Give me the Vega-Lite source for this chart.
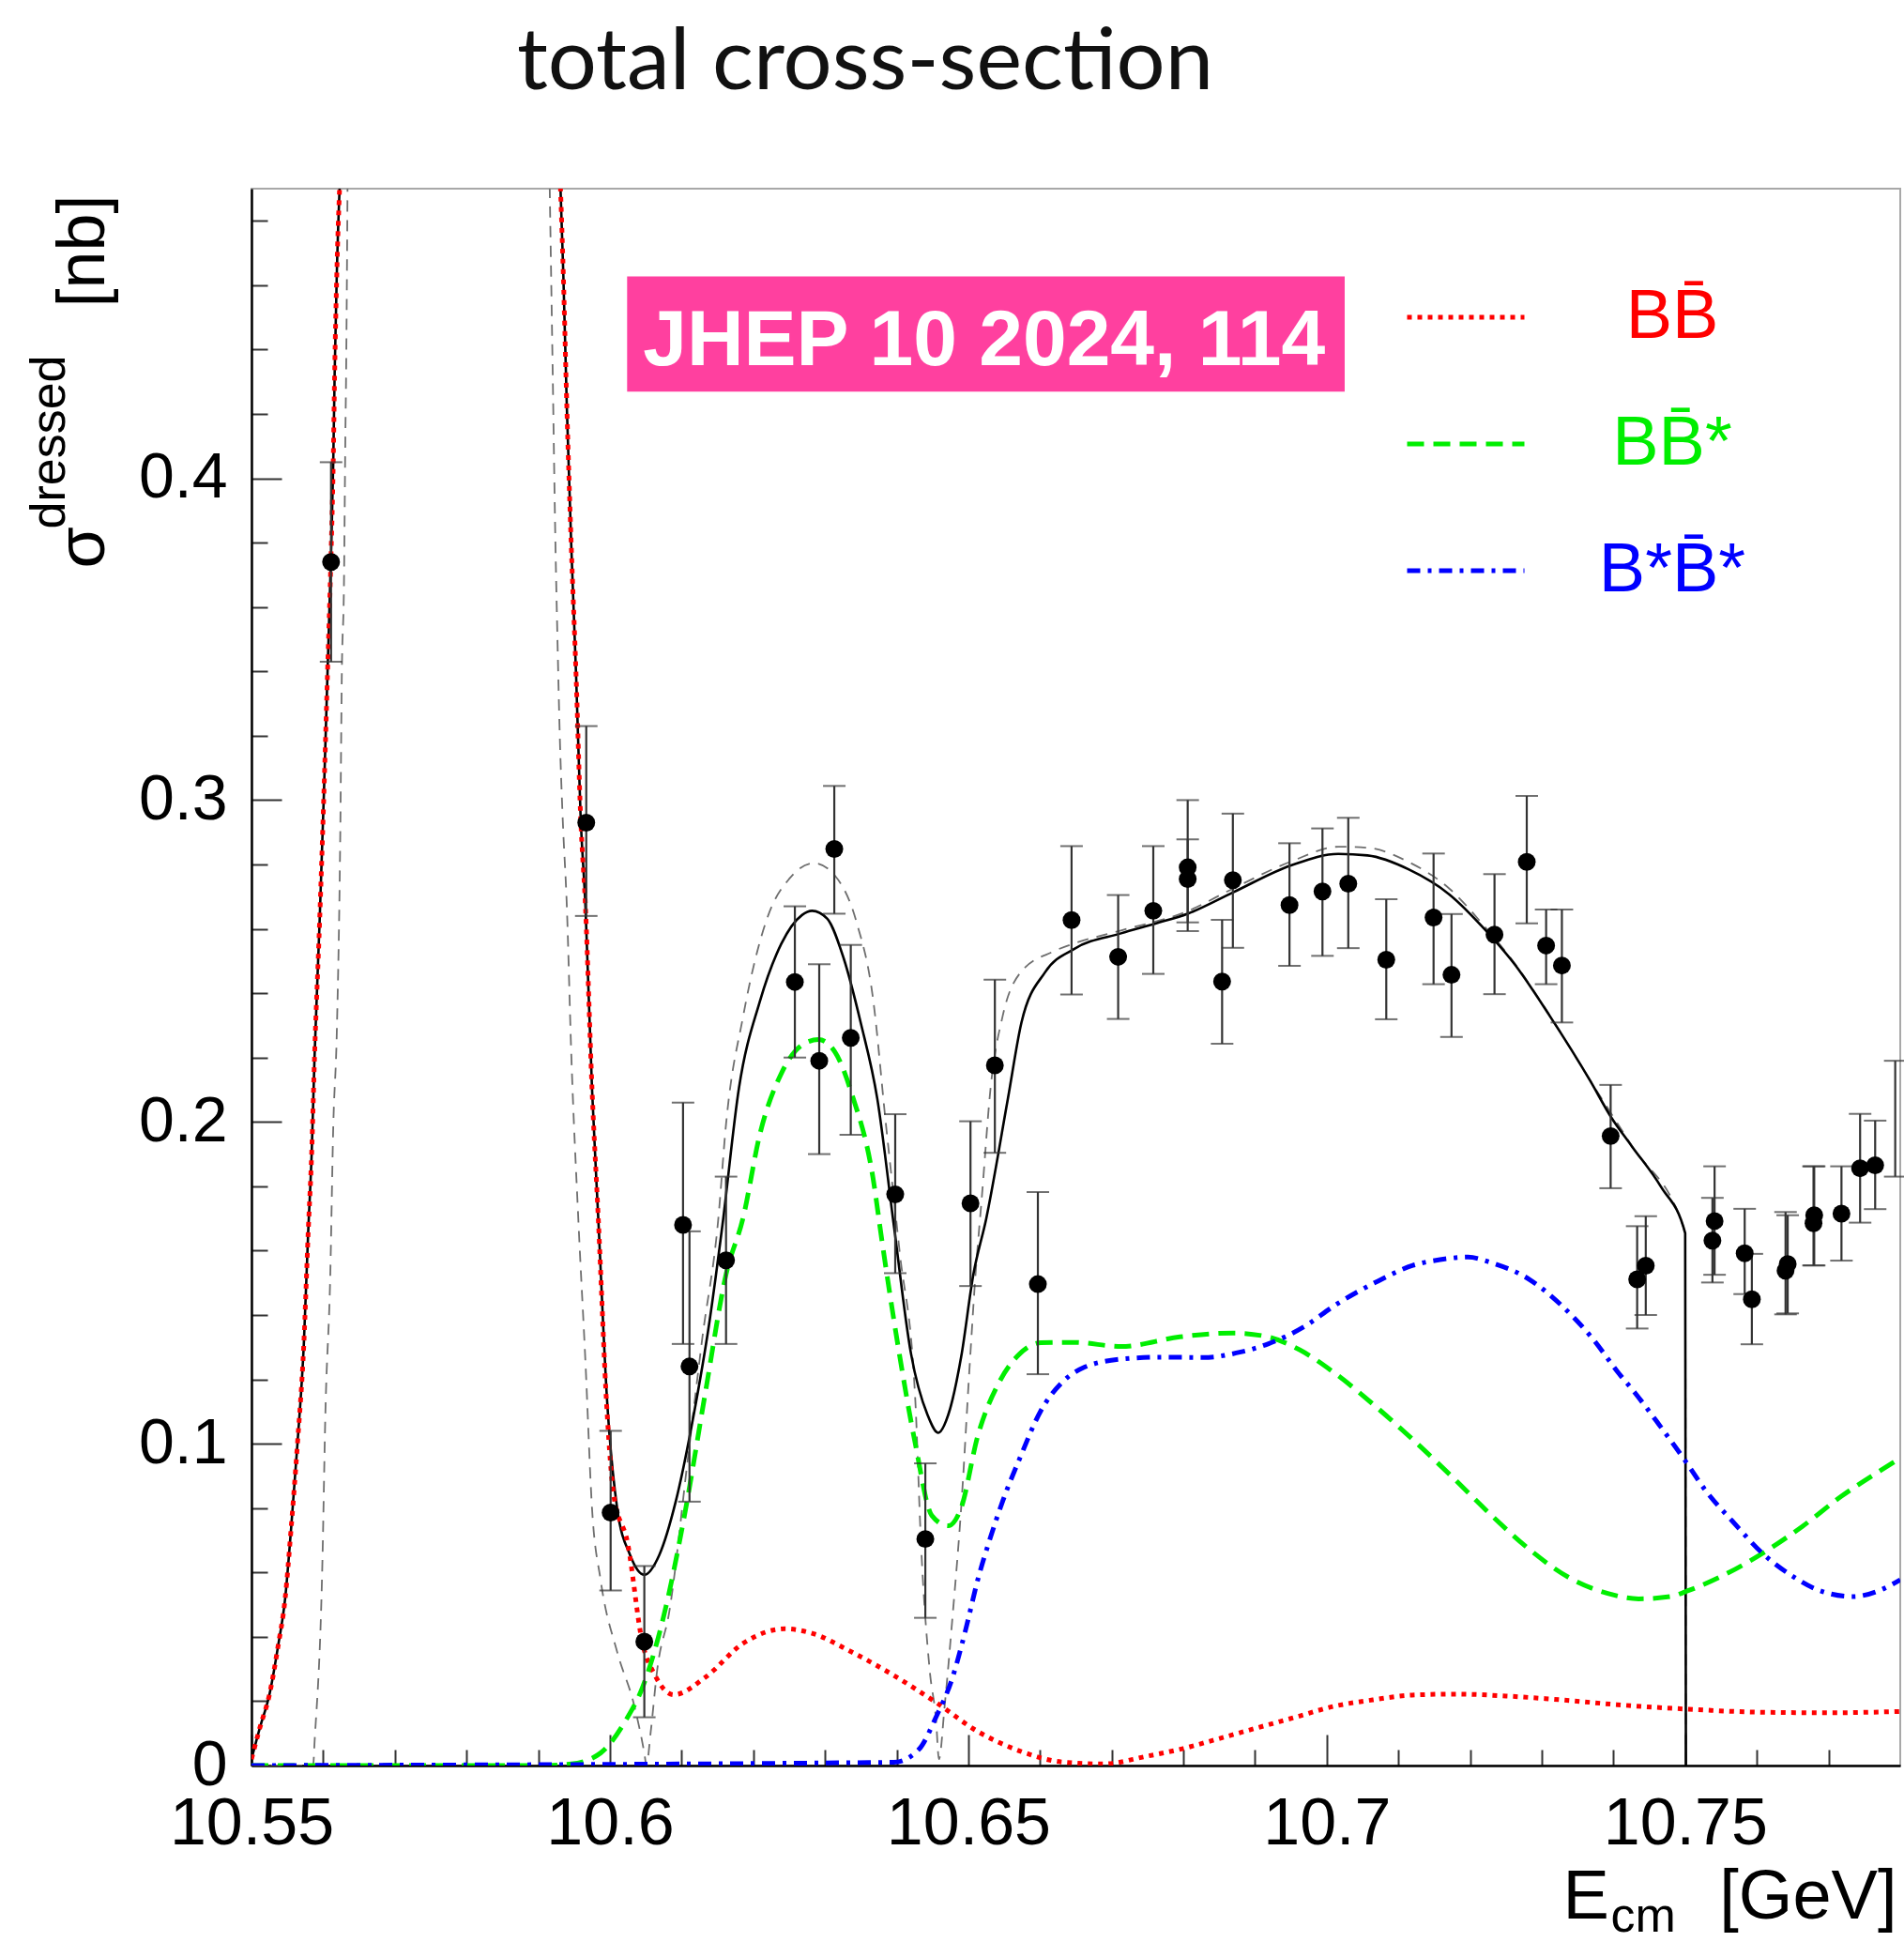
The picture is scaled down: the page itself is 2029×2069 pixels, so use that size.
{
  "$schema": "https://vega.github.io/schema/vega-lite/v6.json",
  "width": 1757,
  "height": 1680,
  "autosize": {"type": "none"},
  "padding": {"left": 268, "top": 201, "right": 4, "bottom": 188},
  "background": "white",
  "config": {
    "view": {"stroke": "#a8a8a8", "strokeWidth": 2},
    "font": "Liberation Sans",
    "axis": {"titleFontWeight": "normal", "titleColor": "#000", "labelColor": "#000", "grid": false}
  },
  "title": {
    "text": "total cross-section",
    "anchor": "start",
    "frame": "group",
    "dx": 283,
    "offset": 14,
    "baseline": "alphabetic",
    "font": "Lato",
    "fontSize": 92,
    "fontWeight": "normal",
    "color": "#111111"
  },
  "datasets": {
    "total": [
      {"E": 10.55, "s": 0.002}, {"E": 10.5512, "s": 0.012}, {"E": 10.5525, "s": 0.022}, {"E": 10.5537, "s": 0.037},
      {"E": 10.5547, "s": 0.052}, {"E": 10.5555, "s": 0.0729}, {"E": 10.5564, "s": 0.0996}, {"E": 10.5573, "s": 0.1309},
      {"E": 10.5579, "s": 0.1652}, {"E": 10.5584, "s": 0.1905}, {"E": 10.5588, "s": 0.2205}, {"E": 10.5595, "s": 0.262},
      {"E": 10.5601, "s": 0.3019}, {"E": 10.5606, "s": 0.3391}, {"E": 10.5611, "s": 0.3764}, {"E": 10.5614, "s": 0.4043},
      {"E": 10.5616, "s": 0.4324}, {"E": 10.5619, "s": 0.4634}, {"E": 10.5623, "s": 0.4906}, {"E": 10.579, "s": null},
      {"E": 10.5931, "s": 0.4906}, {"E": 10.5935, "s": 0.4634}, {"E": 10.594, "s": 0.4215}, {"E": 10.5946, "s": 0.3796},
      {"E": 10.5953, "s": 0.3376}, {"E": 10.5959, "s": 0.2957}, {"E": 10.5966, "s": 0.2664}, {"E": 10.5975, "s": 0.2105},
      {"E": 10.5984, "s": 0.169}, {"E": 10.5996, "s": 0.1136}, {"E": 10.601, "s": 0.0801}, {"E": 10.6028, "s": 0.0655},
      {"E": 10.6048, "s": 0.0593}, {"E": 10.6069, "s": 0.0655}, {"E": 10.6092, "s": 0.0822}, {"E": 10.6116, "s": 0.1079},
      {"E": 10.6139, "s": 0.1381}, {"E": 10.6157, "s": 0.168}, {"E": 10.618, "s": 0.2105}, {"E": 10.6209, "s": 0.2373},
      {"E": 10.6239, "s": 0.2553}, {"E": 10.6268, "s": 0.2643}, {"E": 10.6282, "s": 0.2656}, {"E": 10.6303, "s": 0.2632},
      {"E": 10.6326, "s": 0.2509}, {"E": 10.635, "s": 0.2307}, {"E": 10.6373, "s": 0.2072}, {"E": 10.6396, "s": 0.168},
      {"E": 10.642, "s": 0.128}, {"E": 10.6443, "s": 0.109}, {"E": 10.6458, "s": 0.1034}, {"E": 10.6472, "s": 0.109},
      {"E": 10.649, "s": 0.127}, {"E": 10.6507, "s": 0.1526}, {"E": 10.6525, "s": 0.17}, {"E": 10.6555, "s": 0.207},
      {"E": 10.6574, "s": 0.2308}, {"E": 10.6607, "s": 0.2465}, {"E": 10.6648, "s": 0.2538}, {"E": 10.6713, "s": 0.2586},
      {"E": 10.6762, "s": 0.2617}, {"E": 10.6806, "s": 0.2647}, {"E": 10.6869, "s": 0.2713}, {"E": 10.6951, "s": 0.2798},
      {"E": 10.7016, "s": 0.2833}, {"E": 10.7057, "s": 0.2828}, {"E": 10.7114, "s": 0.2785}, {"E": 10.7171, "s": 0.2707},
      {"E": 10.7221, "s": 0.2597}, {"E": 10.7262, "s": 0.249}, {"E": 10.731, "s": 0.2333}, {"E": 10.7368, "s": 0.2126},
      {"E": 10.7396, "s": 0.2017}, {"E": 10.7425, "s": 0.1926}, {"E": 10.7466, "s": 0.1799}, {"E": 10.75, "s": 0.1654},
      {"E": 10.7501, "s": 0}
    ],
    "alt": [
      {"E": 10.55, "s": 0}, {"E": 10.5586, "s": 0}, {"E": 10.5588, "s": 0.0073}, {"E": 10.5599, "s": 0.064},
      {"E": 10.5603, "s": 0.1087}, {"E": 10.561, "s": 0.1533}, {"E": 10.5614, "s": 0.198}, {"E": 10.5619, "s": 0.2278},
      {"E": 10.5624, "s": 0.2926}, {"E": 10.5626, "s": 0.3391}, {"E": 10.5629, "s": 0.3671}, {"E": 10.5631, "s": 0.4138},
      {"E": 10.5632, "s": 0.4323}, {"E": 10.5634, "s": 0.4906}, {"E": 10.579, "s": null}, {"E": 10.5916, "s": 0.4906},
      {"E": 10.592, "s": 0.4355}, {"E": 10.5924, "s": 0.3796}, {"E": 10.5927, "s": 0.3484}, {"E": 10.593, "s": 0.3205},
      {"E": 10.5934, "s": 0.295}, {"E": 10.594, "s": 0.2664}, {"E": 10.5946, "s": 0.2218}, {"E": 10.5956, "s": 0.1694},
      {"E": 10.5966, "s": 0.1248}, {"E": 10.5975, "s": 0.0801}, {"E": 10.5987, "s": 0.0577}, {"E": 10.601, "s": 0.0354},
      {"E": 10.6034, "s": 0.0186}, {"E": 10.6048, "s": 0.0039}, {"E": 10.6051, "s": 0}, {"E": 10.6057, "s": 0.0106},
      {"E": 10.6066, "s": 0.0298}, {"E": 10.6083, "s": 0.048}, {"E": 10.6108, "s": 0.094}, {"E": 10.6129, "s": 0.133},
      {"E": 10.6151, "s": 0.1694}, {"E": 10.6162, "s": 0.1993}, {"E": 10.6186, "s": 0.233}, {"E": 10.6221, "s": 0.2643},
      {"E": 10.625, "s": 0.2755}, {"E": 10.6285, "s": 0.2804}, {"E": 10.6314, "s": 0.2765}, {"E": 10.6344, "s": 0.2621},
      {"E": 10.6367, "s": 0.2384}, {"E": 10.6385, "s": 0.1993}, {"E": 10.6404, "s": 0.16}, {"E": 10.6426, "s": 0.1136},
      {"E": 10.6434, "s": 0.0688}, {"E": 10.6446, "s": 0.0298}, {"E": 10.6455, "s": 0.014}, {"E": 10.6459, "s": 0.002},
      {"E": 10.6467, "s": 0.0186}, {"E": 10.6478, "s": 0.0464}, {"E": 10.649, "s": 0.0801}, {"E": 10.6502, "s": 0.1248},
      {"E": 10.651, "s": 0.1526}, {"E": 10.6519, "s": 0.1771}, {"E": 10.6531, "s": 0.2105}, {"E": 10.6548, "s": 0.233},
      {"E": 10.6572, "s": 0.2462}, {"E": 10.6619, "s": 0.253}, {"E": 10.6648, "s": 0.2555}, {"E": 10.6713, "s": 0.2595},
      {"E": 10.6806, "s": 0.2655}, {"E": 10.6869, "s": 0.2725}, {"E": 10.6951, "s": 0.281}, {"E": 10.7016, "s": 0.2855},
      {"E": 10.7057, "s": 0.2852}, {"E": 10.7114, "s": 0.2808}, {"E": 10.7171, "s": 0.2725}, {"E": 10.7221, "s": 0.2605},
      {"E": 10.7262, "s": 0.2493}, {"E": 10.731, "s": 0.2335}, {"E": 10.7368, "s": 0.2127}, {"E": 10.7425, "s": 0.1927},
      {"E": 10.75, "s": 0.1655}, {"E": 10.7501, "s": 0}
    ],
    "components": [
      {"c": "BB\u0304", "E": 10.55, "s": 0.002}, {"c": "BB\u0304", "E": 10.5512, "s": 0.012}, {"c": "BB\u0304", "E": 10.5525, "s": 0.022},
      {"c": "BB\u0304", "E": 10.5537, "s": 0.037}, {"c": "BB\u0304", "E": 10.5547, "s": 0.052}, {"c": "BB\u0304", "E": 10.5555, "s": 0.0729},
      {"c": "BB\u0304", "E": 10.5564, "s": 0.0996}, {"c": "BB\u0304", "E": 10.5573, "s": 0.1309}, {"c": "BB\u0304", "E": 10.5579, "s": 0.1652},
      {"c": "BB\u0304", "E": 10.5584, "s": 0.1905}, {"c": "BB\u0304", "E": 10.5588, "s": 0.2205}, {"c": "BB\u0304", "E": 10.5595, "s": 0.262},
      {"c": "BB\u0304", "E": 10.5601, "s": 0.3019}, {"c": "BB\u0304", "E": 10.5606, "s": 0.3391}, {"c": "BB\u0304", "E": 10.5611, "s": 0.3764},
      {"c": "BB\u0304", "E": 10.5614, "s": 0.4043}, {"c": "BB\u0304", "E": 10.5616, "s": 0.4324}, {"c": "BB\u0304", "E": 10.5619, "s": 0.4634},
      {"c": "BB\u0304", "E": 10.5623, "s": 0.4906}, {"c": "BB\u0304", "E": 10.579, "s": null}, {"c": "BB\u0304", "E": 10.5931, "s": 0.4906},
      {"c": "BB\u0304", "E": 10.5935, "s": 0.4634}, {"c": "BB\u0304", "E": 10.594, "s": 0.4215}, {"c": "BB\u0304", "E": 10.5946, "s": 0.3796},
      {"c": "BB\u0304", "E": 10.5953, "s": 0.3376}, {"c": "BB\u0304", "E": 10.5959, "s": 0.2957}, {"c": "BB\u0304", "E": 10.5966, "s": 0.2664},
      {"c": "BB\u0304", "E": 10.5975, "s": 0.2105}, {"c": "BB\u0304", "E": 10.5984, "s": 0.169}, {"c": "BB\u0304", "E": 10.5996, "s": 0.11},
      {"c": "BB\u0304", "E": 10.6005, "s": 0.0845}, {"c": "BB\u0304", "E": 10.6025, "s": 0.0688}, {"c": "BB\u0304", "E": 10.6045, "s": 0.0385},
      {"c": "BB\u0304", "E": 10.6063, "s": 0.028}, {"c": "BB\u0304", "E": 10.6089, "s": 0.022}, {"c": "BB\u0304", "E": 10.6133, "s": 0.0274},
      {"c": "BB\u0304", "E": 10.6186, "s": 0.038}, {"c": "BB\u0304", "E": 10.6244, "s": 0.0425}, {"c": "BB\u0304", "E": 10.6279, "s": 0.0413},
      {"c": "BB\u0304", "E": 10.6338, "s": 0.0352}, {"c": "BB\u0304", "E": 10.6396, "s": 0.028}, {"c": "BB\u0304", "E": 10.6455, "s": 0.0196},
      {"c": "BB\u0304", "E": 10.6513, "s": 0.0106}, {"c": "BB\u0304", "E": 10.6572, "s": 0.0045}, {"c": "BB\u0304", "E": 10.6631, "s": 0.0011},
      {"c": "BB\u0304", "E": 10.6689, "s": 0.0005}, {"c": "BB\u0304", "E": 10.6747, "s": 0.0028}, {"c": "BB\u0304", "E": 10.68, "s": 0.0053},
      {"c": "BB\u0304", "E": 10.6847, "s": 0.0082}, {"c": "BB\u0304", "E": 10.6901, "s": 0.0116}, {"c": "BB\u0304", "E": 10.6956, "s": 0.015},
      {"c": "BB\u0304", "E": 10.701, "s": 0.0184}, {"c": "BB\u0304", "E": 10.7064, "s": 0.0204}, {"c": "BB\u0304", "E": 10.7119, "s": 0.0219},
      {"c": "BB\u0304", "E": 10.7181, "s": 0.0222}, {"c": "BB\u0304", "E": 10.725, "s": 0.0216}, {"c": "BB\u0304", "E": 10.7328, "s": 0.0204},
      {"c": "BB\u0304", "E": 10.7406, "s": 0.0189}, {"c": "BB\u0304", "E": 10.7505, "s": 0.0175}, {"c": "BB\u0304", "E": 10.76, "s": 0.0166},
      {"c": "BB\u0304", "E": 10.7701, "s": 0.0164}, {"c": "BB\u0304", "E": 10.78, "s": 0.0168},

      {"c": "BB\u0304*", "E": 10.55, "s": 0}, {"c": "BB\u0304*", "E": 10.59, "s": 0}, {"c": "BB\u0304*", "E": 10.5946, "s": 0.0005},
      {"c": "BB\u0304*", "E": 10.5987, "s": 0.0039}, {"c": "BB\u0304*", "E": 10.6022, "s": 0.014}, {"c": "BB\u0304*", "E": 10.6045, "s": 0.024},
      {"c": "BB\u0304*", "E": 10.6075, "s": 0.0464}, {"c": "BB\u0304*", "E": 10.6104, "s": 0.0777}, {"c": "BB\u0304*", "E": 10.6133, "s": 0.1157},
      {"c": "BB\u0304*", "E": 10.6162, "s": 0.1526}, {"c": "BB\u0304*", "E": 10.6186, "s": 0.1704}, {"c": "BB\u0304*", "E": 10.6209, "s": 0.196},
      {"c": "BB\u0304*", "E": 10.6239, "s": 0.215}, {"c": "BB\u0304*", "E": 10.6268, "s": 0.2239}, {"c": "BB\u0304*", "E": 10.6291, "s": 0.2256},
      {"c": "BB\u0304*", "E": 10.6314, "s": 0.2217}, {"c": "BB\u0304*", "E": 10.6338, "s": 0.2083}, {"c": "BB\u0304*", "E": 10.6367, "s": 0.1826},
      {"c": "BB\u0304*", "E": 10.6379, "s": 0.1638}, {"c": "BB\u0304*", "E": 10.6402, "s": 0.1303}, {"c": "BB\u0304*", "E": 10.6426, "s": 0.1},
      {"c": "BB\u0304*", "E": 10.6449, "s": 0.0777}, {"c": "BB\u0304*", "E": 10.6472, "s": 0.0745}, {"c": "BB\u0304*", "E": 10.649, "s": 0.0801},
      {"c": "BB\u0304*", "E": 10.6513, "s": 0.1023}, {"c": "BB\u0304*", "E": 10.6543, "s": 0.1191}, {"c": "BB\u0304*", "E": 10.6572, "s": 0.128},
      {"c": "BB\u0304*", "E": 10.6601, "s": 0.1314}, {"c": "BB\u0304*", "E": 10.6648, "s": 0.1315}, {"c": "BB\u0304*", "E": 10.6713, "s": 0.1302},
      {"c": "BB\u0304*", "E": 10.6795, "s": 0.1332}, {"c": "BB\u0304*", "E": 10.6869, "s": 0.1344}, {"c": "BB\u0304*", "E": 10.6918, "s": 0.1332},
      {"c": "BB\u0304*", "E": 10.6962, "s": 0.1292}, {"c": "BB\u0304*", "E": 10.7012, "s": 0.1218}, {"c": "BB\u0304*", "E": 10.7066, "s": 0.112},
      {"c": "BB\u0304*", "E": 10.712, "s": 0.1013}, {"c": "BB\u0304*", "E": 10.7175, "s": 0.0897}, {"c": "BB\u0304*", "E": 10.7229, "s": 0.0779},
      {"c": "BB\u0304*", "E": 10.7283, "s": 0.0671}, {"c": "BB\u0304*", "E": 10.7338, "s": 0.0584}, {"c": "BB\u0304*", "E": 10.7392, "s": 0.0535},
      {"c": "BB\u0304*", "E": 10.7435, "s": 0.0518}, {"c": "BB\u0304*", "E": 10.7479, "s": 0.0525}, {"c": "BB\u0304*", "E": 10.7506, "s": 0.0545},
      {"c": "BB\u0304*", "E": 10.7555, "s": 0.0593}, {"c": "BB\u0304*", "E": 10.7609, "s": 0.0661}, {"c": "BB\u0304*", "E": 10.7664, "s": 0.0744},
      {"c": "BB\u0304*", "E": 10.7718, "s": 0.0837}, {"c": "BB\u0304*", "E": 10.7772, "s": 0.0916}, {"c": "BB\u0304*", "E": 10.78, "s": 0.0955},

      {"c": "B*B\u0304*", "E": 10.55, "s": 0}, {"c": "B*B\u0304*", "E": 10.6396, "s": 0.001}, {"c": "B*B\u0304*", "E": 10.6431, "s": 0.005},
      {"c": "B*B\u0304*", "E": 10.6455, "s": 0.0151}, {"c": "B*B\u0304*", "E": 10.6478, "s": 0.0274}, {"c": "B*B\u0304*", "E": 10.6496, "s": 0.042},
      {"c": "B*B\u0304*", "E": 10.6513, "s": 0.0576}, {"c": "B*B\u0304*", "E": 10.6531, "s": 0.071}, {"c": "B*B\u0304*", "E": 10.6548, "s": 0.0822},
      {"c": "B*B\u0304*", "E": 10.6572, "s": 0.0956}, {"c": "B*B\u0304*", "E": 10.6601, "s": 0.1102}, {"c": "B*B\u0304*", "E": 10.6631, "s": 0.1191},
      {"c": "B*B\u0304*", "E": 10.666, "s": 0.1236}, {"c": "B*B\u0304*", "E": 10.6718, "s": 0.1264}, {"c": "B*B\u0304*", "E": 10.6771, "s": 0.1269},
      {"c": "B*B\u0304*", "E": 10.6828, "s": 0.1268}, {"c": "B*B\u0304*", "E": 10.688, "s": 0.1285}, {"c": "B*B\u0304*", "E": 10.6918, "s": 0.131},
      {"c": "B*B\u0304*", "E": 10.6968, "s": 0.1363}, {"c": "B*B\u0304*", "E": 10.7012, "s": 0.1431}, {"c": "B*B\u0304*", "E": 10.7072, "s": 0.1506},
      {"c": "B*B\u0304*", "E": 10.712, "s": 0.1554}, {"c": "B*B\u0304*", "E": 10.7158, "s": 0.1572}, {"c": "B*B\u0304*", "E": 10.7197, "s": 0.158},
      {"c": "B*B\u0304*", "E": 10.7229, "s": 0.1563}, {"c": "B*B\u0304*", "E": 10.7283, "s": 0.151}, {"c": "B*B\u0304*", "E": 10.7327, "s": 0.1431},
      {"c": "B*B\u0304*", "E": 10.737, "s": 0.1329}, {"c": "B*B\u0304*", "E": 10.7408, "s": 0.1217}, {"c": "B*B\u0304*", "E": 10.743, "s": 0.1158},
      {"c": "B*B\u0304*", "E": 10.7463, "s": 0.1061}, {"c": "B*B\u0304*", "E": 10.7501, "s": 0.0944}, {"c": "B*B\u0304*", "E": 10.7528, "s": 0.0856},
      {"c": "B*B\u0304*", "E": 10.7566, "s": 0.0759}, {"c": "B*B\u0304*", "E": 10.7609, "s": 0.0657}, {"c": "B*B\u0304*", "E": 10.7653, "s": 0.0584},
      {"c": "B*B\u0304*", "E": 10.7686, "s": 0.0545}, {"c": "B*B\u0304*", "E": 10.7734, "s": 0.0525}, {"c": "B*B\u0304*", "E": 10.7772, "s": 0.0545},
      {"c": "B*B\u0304*", "E": 10.78, "s": 0.0577}
    ],
    "points": [
      {"E": 10.5611, "s": 0.374, "lo": 0.343, "hi": 0.405},
      {"E": 10.5967, "s": 0.293, "lo": 0.264, "hi": 0.323},
      {"E": 10.6001, "s": 0.0786, "lo": 0.0544, "hi": 0.104},
      {"E": 10.6048, "s": 0.0385, "lo": 0.015, "hi": 0.062},
      {"E": 10.6102, "s": 0.168, "lo": 0.131, "hi": 0.206},
      {"E": 10.6111, "s": 0.124, "lo": 0.082, "hi": 0.166},
      {"E": 10.6162, "s": 0.157, "lo": 0.131, "hi": 0.183},
      {"E": 10.6258, "s": 0.2435, "lo": 0.22, "hi": 0.267},
      {"E": 10.6292, "s": 0.219, "lo": 0.19, "hi": 0.249},
      {"E": 10.6313, "s": 0.2848, "lo": 0.2647, "hi": 0.3044},
      {"E": 10.6336, "s": 0.2261, "lo": 0.196, "hi": 0.255},
      {"E": 10.6398, "s": 0.1775, "lo": 0.153, "hi": 0.2024},
      {"E": 10.644, "s": 0.0704, "lo": 0.0459, "hi": 0.0939},
      {"E": 10.6503, "s": 0.1747, "lo": 0.149, "hi": 0.2002},
      {"E": 10.6537, "s": 0.2176, "lo": 0.1904, "hi": 0.2442},
      {"E": 10.6597, "s": 0.1496, "lo": 0.1216, "hi": 0.1782},
      {"E": 10.6644, "s": 0.2627, "lo": 0.2396, "hi": 0.2857},
      {"E": 10.6709, "s": 0.2513, "lo": 0.232, "hi": 0.2705},
      {"E": 10.6758, "s": 0.2656, "lo": 0.246, "hi": 0.2857},
      {"E": 10.6806, "s": 0.2791, "lo": 0.2593, "hi": 0.3},
      {"E": 10.6806, "s": 0.2755, "lo": 0.262, "hi": 0.2878},
      {"E": 10.6854, "s": 0.2436, "lo": 0.2243, "hi": 0.2628},
      {"E": 10.6869, "s": 0.2751, "lo": 0.2541, "hi": 0.2958},
      {"E": 10.6948, "s": 0.2674, "lo": 0.2485, "hi": 0.2866},
      {"E": 10.6994, "s": 0.2716, "lo": 0.2516, "hi": 0.2912},
      {"E": 10.703, "s": 0.274, "lo": 0.254, "hi": 0.2945},
      {"E": 10.7083, "s": 0.2504, "lo": 0.2319, "hi": 0.2692},
      {"E": 10.7149, "s": 0.2635, "lo": 0.2428, "hi": 0.2834},
      {"E": 10.7174, "s": 0.2457, "lo": 0.2264, "hi": 0.2646},
      {"E": 10.7234, "s": 0.2582, "lo": 0.2397, "hi": 0.277},
      {"E": 10.7279, "s": 0.2808, "lo": 0.2617, "hi": 0.3013},
      {"E": 10.7306, "s": 0.2548, "lo": 0.2428, "hi": 0.266},
      {"E": 10.7328, "s": 0.2486, "lo": 0.2309, "hi": 0.266},
      {"E": 10.7396, "s": 0.1956, "lo": 0.1794, "hi": 0.2115},
      {"E": 10.7433, "s": 0.1511, "lo": 0.1358, "hi": 0.1676},
      {"E": 10.7445, "s": 0.1553, "lo": 0.14, "hi": 0.1707},
      {"E": 10.7541, "s": 0.1692, "lo": 0.1525, "hi": 0.1862},
      {"E": 10.7538, "s": 0.1631, "lo": 0.1501, "hi": 0.1764},
      {"E": 10.7583, "s": 0.1592, "lo": 0.1465, "hi": 0.173},
      {"E": 10.7593, "s": 0.1449, "lo": 0.1309, "hi": 0.159},
      {"E": 10.764, "s": 0.1538, "lo": 0.1402, "hi": 0.172},
      {"E": 10.7643, "s": 0.1558, "lo": 0.1405, "hi": 0.171},
      {"E": 10.7679, "s": 0.1685, "lo": 0.1554, "hi": 0.1862},
      {"E": 10.768, "s": 0.171, "lo": 0.1554, "hi": 0.1862},
      {"E": 10.7718, "s": 0.1715, "lo": 0.1569, "hi": 0.1862},
      {"E": 10.7744, "s": 0.1856, "lo": 0.1687, "hi": 0.2025},
      {"E": 10.7765, "s": 0.1865, "lo": 0.1729, "hi": 0.2004},
      {"E": 10.7793, "s": null, "lo": 0.183, "hi": 0.219}
    ]
  },
  "layer": [
    {
      "data": {"name": "alt"},
      "mark": {"type": "line", "color": "#6e6e6e", "strokeWidth": 1.8, "strokeDash": [12, 9], "clip": true, "interpolate": "monotone", "invalid": "break-paths-show-domains"},
      "encoding": {
        "x": {
          "field": "E", "type": "quantitative",
          "scale": {"domain": [10.55, 10.78], "nice": false, "zero": false},
          "axis": {
            "orient": "bottom",
            "values": [10.56, 10.57, 10.58, 10.59, 10.61, 10.62, 10.63, 10.64, 10.66, 10.67, 10.68, 10.69, 10.71, 10.72, 10.73, 10.74, 10.76, 10.77],
            "labels": false, "domain": false, "grid": false,
            "ticks": true, "tickSize": -17, "tickWidth": 2, "tickColor": "#333333",
            "title": "cm", "titleFont": "Liberation Sans", "titleFontSize": 52,
            "titleAlign": "left", "titleBaseline": "alphabetic", "titleAngle": 0,
            "titleX": 1448, "titleY": 176
          }
        },
        "y": {
          "field": "s", "type": "quantitative",
          "scale": {"domain": [0, 0.49], "nice": false, "zero": true},
          "axis": {
            "orient": "left",
            "values": [0.02, 0.04, 0.06, 0.08, 0.12, 0.14, 0.16, 0.18, 0.22, 0.24, 0.26, 0.28, 0.32, 0.34, 0.36, 0.38, 0.42, 0.44, 0.46, 0.48],
            "labels": false, "domain": false, "grid": false,
            "ticks": true, "tickSize": -17, "tickWidth": 2, "tickColor": "#333333",
            "title": "dressed", "titleFont": "Liberation Sans", "titleFontSize": 52,
            "titleAlign": "left", "titleBaseline": "alphabetic", "titleAngle": -90,
            "titleX": -200, "titleY": 362
          }
        }
      }
    },
    {
      "data": {"name": "total"},
      "mark": {"type": "line", "color": "#000000", "strokeWidth": 2.6, "clip": true, "interpolate": "monotone", "invalid": "break-paths-show-domains"},
      "encoding": {
        "x": {
          "field": "E", "type": "quantitative",
          "axis": {
            "orient": "bottom",
            "values": [10.55, 10.6, 10.65, 10.7, 10.75],
            "format": "~g",
            "domain": true, "domainColor": "#000000", "domainWidth": 2.5,
            "ticks": true, "tickSize": -33, "tickWidth": 2, "tickColor": "#333333",
            "labelFont": "Liberation Sans", "labelFontSize": 70, "labelPadding": 61,
            "labelBaseline": "top", "labelFlush": false, "labelOverlap": false,
            "title": "[GeV]", "titleFont": "Liberation Sans", "titleFontSize": 74,
            "titleAlign": "right", "titleBaseline": "alphabetic", "titleAngle": 0,
            "titleX": 1753, "titleY": 162
          }
        },
        "y": {
          "field": "s", "type": "quantitative",
          "axis": {
            "orient": "left",
            "values": [0, 0.1, 0.2, 0.3, 0.4],
            "format": "~g",
            "domain": true, "domainColor": "#000000", "domainWidth": 2.5,
            "ticks": true, "tickSize": -32, "tickWidth": 2, "tickColor": "#333333",
            "labelFont": "Liberation Sans", "labelFontSize": 68, "labelPadding": 58,
            "labelBaseline": "middle", "labelFlush": false, "labelOverlap": false,
            "title": "[nb]", "titleFont": "Liberation Sans", "titleFontSize": 72,
            "titleAlign": "right", "titleBaseline": "alphabetic", "titleAngle": -90,
            "titleX": -158, "titleY": 6
          }
        }
      }
    },
    {
      "data": {"name": "components"},
      "mark": {"type": "line", "strokeWidth": 5, "clip": true, "interpolate": "monotone", "invalid": "break-paths-show-domains"},
      "encoding": {
        "x": {"field": "E", "type": "quantitative", "axis": null},
        "y": {"field": "s", "type": "quantitative", "axis": null},
        "color": {
          "field": "c", "type": "nominal",
          "scale": {"domain": ["BB\u0304", "BB\u0304*", "B*B\u0304*"], "range": ["#ff0000", "#00ee00", "#0000ff"]},
          "legend": {
            "orient": "none", "legendX": 1229, "legendY": 72, "title": null, "padding": 0,
            "symbolType": "stroke", "symbolSize": 15625, "symbolStrokeWidth": 5,
            "labelFont": "Liberation Sans", "labelFontSize": 74, "labelAlign": "center", "labelOffset": 155,
            "labelLimit": 500, "rowPadding": 33, "labelBaseline": "middle",
            "encode": {"labels": {"update": {"fill": {"scale": "color", "field": "value"}}}}
          }
        },
        "strokeDash": {
          "field": "c", "type": "nominal",
          "scale": {"domain": ["BB\u0304", "BB\u0304*", "B*B\u0304*"], "range": [[5, 6], [18, 10], [14, 8, 4, 8]]},
          "legend": {
            "orient": "none", "legendX": 1229, "legendY": 72, "title": null, "padding": 0,
            "symbolType": "stroke", "symbolSize": 15625, "symbolStrokeWidth": 5,
            "labelFont": "Liberation Sans", "labelFontSize": 74, "labelAlign": "center", "labelOffset": 155,
            "labelLimit": 500, "rowPadding": 33, "labelBaseline": "middle",
            "encode": {"labels": {"update": {"fill": {"scale": "color", "field": "value"}}}}
          }
        }
      }
    },
    {
      "data": {"name": "points"},
      "mark": {
        "type": "errorbar",
        "ticks": {"size": 24, "thickness": 2, "color": "#333333"},
        "rule": {"strokeWidth": 2.2, "color": "#333333"}
      },
      "encoding": {
        "x": {"field": "E", "type": "quantitative", "axis": null},
        "y": {"field": "lo", "type": "quantitative", "axis": null},
        "y2": {"field": "hi"}
      }
    },
    {
      "data": {"name": "points"},
      "mark": {"type": "circle", "size": 360, "color": "#000000", "opacity": 1},
      "encoding": {
        "x": {
          "field": "E", "type": "quantitative",
          "axis": {
            "orient": "bottom", "labels": false, "ticks": false, "domain": false, "grid": false,
            "title": "E", "titleFont": "Liberation Sans", "titleFontSize": 74,
            "titleAlign": "left", "titleBaseline": "alphabetic", "titleAngle": 0,
            "titleX": 1397, "titleY": 162
          }
        },
        "y": {
          "field": "s", "type": "quantitative",
          "axis": {
            "orient": "left", "labels": false, "ticks": false, "domain": false, "grid": false,
            "title": "\u03c3", "titleFont": "Liberation Sans", "titleFontSize": 72,
            "titleAlign": "left", "titleBaseline": "alphabetic", "titleAngle": -90,
            "titleX": -158, "titleY": 404
          }
        }
      }
    },
    {
      "data": {"values": [{}]},
      "mark": {"type": "rect", "color": "#ff409f"},
      "encoding": {
        "x": {"datum": 10.6024, "type": "quantitative", "axis": null},
        "x2": {"datum": 10.7025},
        "y": {"datum": 0.4627, "type": "quantitative", "axis": null},
        "y2": {"datum": 0.4269}
      }
    },
    {
      "data": {"values": [{}]},
      "mark": {"type": "text", "text": "JHEP 10 2024, 114", "font": "Liberation Sans", "fontWeight": "bold", "fontSize": 84, "color": "#ffffff", "align": "center", "baseline": "alphabetic"},
      "encoding": {
        "x": {"datum": 10.6522, "type": "quantitative", "axis": null},
        "y": {"datum": 0.4353, "type": "quantitative", "axis": null}
      }
    }
  ],
  "resolve": {"axis": {"x": "independent", "y": "independent"}}
}
